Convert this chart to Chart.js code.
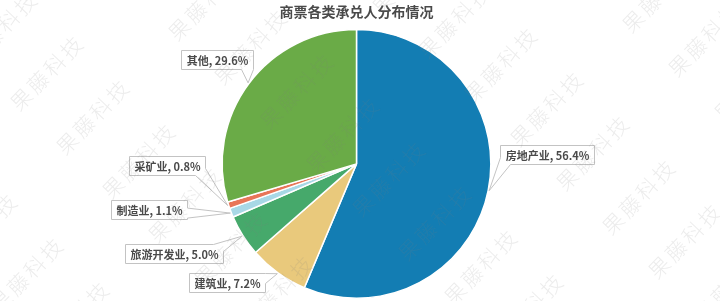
<!DOCTYPE html>
<html><head><meta charset="utf-8">
<script src="https://cdn.jsdelivr.net/npm/chart.js@4"></script>
<style>
html,body{margin:0;padding:0;background:#fff;}
#wrap{position:relative;width:720px;height:301px;overflow:hidden;}
canvas{display:block;}
.wm{position:absolute;font-family:"Noto Sans CJK SC";font-weight:300;font-size:21px;line-height:1;color:rgba(130,130,130,0.15);white-space:nowrap;letter-spacing:3px;pointer-events:none;}
</style></head><body>
<div id="wrap"><canvas id="c" width="720" height="301"></canvas><div id="wmLayer"></div></div>
<script>
const categories = ['房地产业','建筑业','旅游开发业','制造业','采矿业','其他'];
const shares = [56.4, 7.2, 5.0, 1.1, 0.8, 29.6];
const sliceColors = ['#137db3','#e9c97c','#46a96b','#a8d8e6','#e87558','#6aab47'];
const chartTitle = '商票各类承兑人分布情况';
const watermarkText = '果藤科技';

// layout: label box centre offsets from each slice's outer anchor point
const labelOffsets = [[58,-36],[-50,9],[-68,17],[-81,-4],[-61,-40],[-31,-23]];

function clamp(v,a,b){return Math.max(a,Math.min(b,v));}
function calloutPath(L,T,R,B,ax,ay){
  const cx=10, cy=7;
  const left=ax<L, right=ax>R, above=ay<T, below=ay>B;
  const TL=[L,T],TR=[R,T],BR=[R,B],BL=[L,B],A=[ax,ay];
  if(right&&below) return [TL,TR,[R,B-cy],A,[R-cx,B],BL];
  if(left&&below) return [TL,TR,BR,[L+cx,B],A,[L,B-cy]];
  if(right&&above) return [TL,[R-cx,T],A,[R,T+cy],BR,BL];
  if(left&&above) return [[L,T+cy],A,[L+cx,T],TR,BR,BL];
  if(right){const m=clamp(ay,T+5,B-5);return [TL,TR,[R,m-5],A,[R,m+5],BR,BL];}
  if(left){const m=clamp(ay,T+5,B-5);return [TL,TR,BR,BL,[L,m+5],A,[L,m-5]];}
  if(below){const m=clamp(ax,L+6,R-6);return [TL,TR,BR,[m+6,B],A,[m-6,B],BL];}
  if(above){const m=clamp(ax,L+6,R-6);return [TL,[m-6,T],A,[m+6,T],TR,BR,BL];}
  return [TL,TR,BR,BL];
}

const calloutPlugin = {
  id:'callouts',
  afterDatasetsDraw(chart){
    const ctx=chart.ctx; const meta=chart.getDatasetMeta(0);
    ctx.save();
    ctx.font='bold 11px "Noto Sans CJK SC"';
    meta.data.forEach((arc,i)=>{
      const p=arc.getProps(['x','y','startAngle','endAngle','outerRadius'],true);
      const mid=(p.startAngle+p.endAngle)/2;
      const ax=p.x+Math.cos(mid)*(p.outerRadius+1), ay=p.y+Math.sin(mid)*(p.outerRadius+1);
      const text=categories[i]+', '+shares[i].toFixed(1)+'%';
      const tw=ctx.measureText(text).width;
      const w=Math.round(tw+10), h=19;
      const cx=ax+labelOffsets[i][0], cy=ay+labelOffsets[i][1];
      const L=Math.round(cx-w/2)+0.5, T=Math.round(cy-h/2)+0.5, R=L+w, B=T+h;
      const pts=calloutPath(L,T,R,B,ax,ay);
      ctx.beginPath();
      pts.forEach((q,k)=>k?ctx.lineTo(q[0],q[1]):ctx.moveTo(q[0],q[1]));
      ctx.closePath();
      ctx.fillStyle='#fff'; ctx.fill();
      ctx.strokeStyle='#c3c3c3'; ctx.lineWidth=1; ctx.stroke();
      ctx.fillStyle='#4a4a4a'; ctx.textAlign='center'; ctx.textBaseline='middle';
      ctx.fillText(text,(L+R)/2,(T+B)/2+0.5);
    });
    ctx.restore();
  }
};

new Chart(document.getElementById('c'),{
  type:'pie',
  data:{labels:categories,datasets:[{data:shares,backgroundColor:sliceColors,borderColor:'#fff',borderWidth:1.5}]},
  options:{responsive:false,animation:false,
    layout:{padding:{left:0,right:7,top:0,bottom:2}},
    plugins:{legend:{display:false},tooltip:{enabled:false},
      title:{display:true,text:chartTitle,color:'#4a4a4a',
        font:{family:'"Noto Sans CJK SC"',size:14,weight:'bold'},padding:{top:3,bottom:9}}}},
  plugins:[calloutPlugin]
});

// watermark grid (layout only)
const layer=document.getElementById('wmLayer');
const ox=297, oy=90, aV=[46,44], bV=[158,-70];
for(let i=-10;i<=10;i++){for(let j=-6;j<=6;j++){
  const x=ox+i*aV[0]+j*bV[0], y=oy+i*aV[1]+j*bV[1];
  if(x<-90||x>810||y<-90||y>390) continue;
  const s=document.createElement('span');
  s.className='wm'; s.textContent=watermarkText;
  s.style.left=x+'px'; s.style.top=y+'px';
  s.style.transform='translate(-50%,-50%) rotate(-46deg)';
  layer.appendChild(s);
}}
</script>
</body></html>
